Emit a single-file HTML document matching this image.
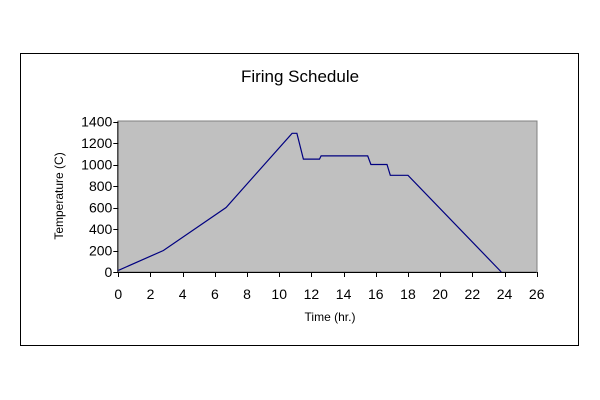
<!DOCTYPE html>
<html><head><meta charset="utf-8"><style>
body{margin:0;background:#fff;}
svg{display:block;font-family:"Liberation Sans",Arial,sans-serif;}
</style></head><body>
<svg width="600" height="400" viewBox="0 0 600 400">
<rect x="20.5" y="53.5" width="558" height="292" fill="#fff" stroke="#000" stroke-width="1"/>
<text x="300" y="82" text-anchor="middle" font-size="17" fill="#000">Firing Schedule</text>
<rect x="118" y="121" width="419" height="151" fill="#c0c0c0" stroke="#808080" stroke-width="1"/>
<g id="axes"></g>
<g id="series"></g>
<text x="330" y="321" text-anchor="middle" font-size="12">Time (hr.)</text>
<text transform="translate(63,196) rotate(-90)" text-anchor="middle" font-size="12">Temperature (C)</text>
</svg>
<script>
const timeValues=[0,2.8,6.7,10.8,11.1,11.5,12.5,12.6,15.5,15.7,16.7,16.9,18,23.8];
const tempValues=[15,200,600,1290,1290,1050,1050,1080,1080,1000,1000,900,900,0];
const xTicks=[0,2,4,6,8,10,12,14,16,18,20,22,24,26];
const yTicks=[0,200,400,600,800,1000,1200,1400];
const X0=118.3,X1=536.7,Y0=272,Y1=121.5;
function xs(v){return X0+(v-0)/(26-0)*(X1-X0);}
function ys(v){return Y0-(v-0)/(1400-0)*(Y0-Y1);}
const NS="http://www.w3.org/2000/svg";
const ax=document.getElementById('axes');
function mk(t,a){const e=document.createElementNS(NS,t);for(const k in a)e.setAttribute(k,a[k]);return e;}
const xl=mk('line',{x1:X0,y1:Y0+0.5,x2:X1,y2:Y0+0.5,stroke:'#000'});


ax.appendChild(xl);
const yl=mk('line',{x1:X0-0.5,y1:Y1,x2:X0-0.5,y2:Y0,stroke:'#000'});


ax.appendChild(yl);
xTicks.forEach(v=>{
 const x=Math.round(xs(v))+0.5;
 const t=mk('line',{x1:x,y1:Y0,x2:x,y2:Y0+5,stroke:'#000'});
 
 
 ax.appendChild(t);
 const l=mk('text',{x:xs(v),y:Y0+27,'text-anchor':'middle','font-size':'14'});
 l.textContent=v;
 
 
 ax.appendChild(l);
});
yTicks.forEach(v=>{
 const y=Math.round(ys(v))+0.5;
 const t=mk('line',{x1:X0-5,y1:y,x2:X0,y2:y,stroke:'#000'});
 
 
 ax.appendChild(t);
 const l=mk('text',{x:X0-6,y:ys(v)+5,'text-anchor':'end','font-size':'14'});
 l.textContent=v;
 
 
 ax.appendChild(l);
});
const pts=timeValues.map((t,i)=>xs(t).toFixed(1)+','+ys(tempValues[i]).toFixed(1)).join(' ');
const pl=mk('polyline',{points:pts,fill:'none',stroke:'#000080','stroke-width':'1.2'});


document.getElementById('series').appendChild(pl);
</script>
</body></html>
